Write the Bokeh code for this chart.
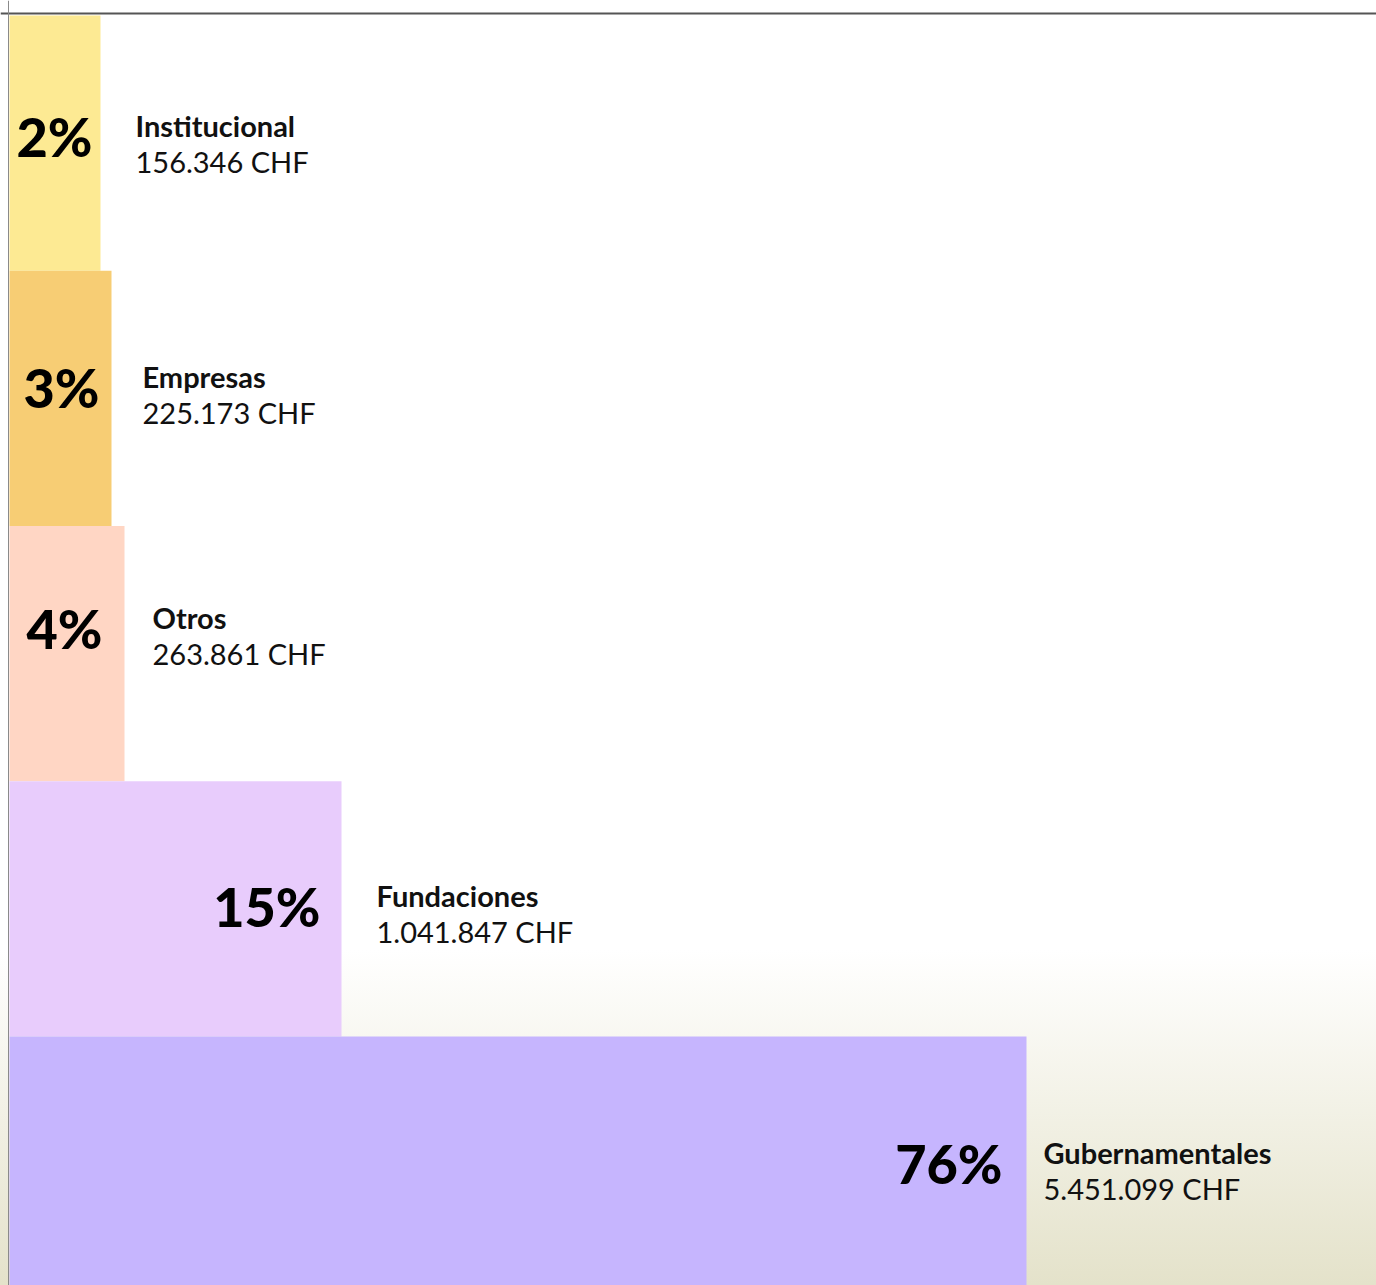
from bokeh.plotting import figure
from bokeh.models import Range1d, Span, ColumnDataSource, GlobalInlineStyleSheet
from bokeh.core.properties import value
from bokeh.embed import file_html
from bokeh.resources import INLINE

# ---- data ----
categories = ["Institucional", "Empresas", "Otros", "Fundaciones", "Gubernamentales"]
amounts = [156346, 225173, 263861, 1041847, 5451099]
amount_labels = ["156.346 CHF", "225.173 CHF", "263.861 CHF", "1.041.847 CHF", "5.451.099 CHF"]
percent_labels = ["2%", "3%", "4%", "15%", "76%"]
bar_extent = [91, 102, 115, 332, 1017]   # displayed bar lengths (px) as drawn in the picture

# ---- styles ----
colors = ["#FDEA93", "#F7CD74", "#FFD6C4", "#E8CCFC", "#C6B5FE"]
label_gap = [35, 31, 28, 35, 17]
pct_pad = [8, 12, 22, 21, 24]
row_dy = [-7, -11, -25, -2, -1]
ROW = 255.25
TOP = 15      # page y of first row
LEFT = 9      # page x of bar start

W, H = 1376, 1285
rows = list(range(len(categories)))

src = ColumnDataSource(dict(
    cat=categories,
    amt=amounts,
    amt_lab=amount_labels,
    pct=percent_labels,
    ext=bar_extent,
    top=[r for r in rows],
    bottom=[r + 1 for r in rows],
    color=colors,
    name_x=[e + g for e, g in zip(bar_extent, label_gap)],
    pct_x=[e - p for e, p in zip(bar_extent, pct_pad)],
    yc=[r + 0.5 + (d - 11) / ROW for r, d in zip(rows, row_dy)],
    yv=[r + 0.5 + (d + 25) / ROW for r, d in zip(rows, row_dy)],
    yp=[r + 0.5 + (d + 0) / ROW for r, d in zip(rows, row_dy)],
))

p = figure(width=W, height=H, output_backend="svg", toolbar_location=None,
           x_range=Range1d(-LEFT, W - LEFT),
           y_range=Range1d((H - TOP) / ROW, -TOP / ROW),
           min_border=0)
p.axis.visible = False
p.grid.visible = False
p.outline_line_color = None
p.background_fill_alpha = 0
p.border_fill_alpha = 0

p.quad(left=0, right="ext", top="top", bottom="bottom", fill_color="color",
       line_color=None, source=src)

p.text(x="pct_x", y="yp", text="pct", source=src, text_font=value("Lato Black, Lato"),
       text_font_style="bold", text_font_size="54px", text_align="right",
       text_baseline="alphabetic", text_color="#000000")
p.text(x="name_x", y="yc", text="cat", source=src, text_font=value("Lato"),
       text_font_style="bold", text_font_size="29px", text_align="left",
       text_baseline="alphabetic", text_color="#111111")
p.text(x="name_x", y="yv", text="amt_lab", source=src, text_font=value("Lato"),
       text_font_size="29px", text_align="left",
       text_baseline="alphabetic", text_color="#111111")

p.add_layout(Span(location=-2 / ROW, dimension="width", line_color="#555555", line_width=2))
p.add_layout(Span(location=-1, dimension="height", line_color="#8a8a8a", line_width=1))

p.stylesheets = [GlobalInlineStyleSheet(css="""
html { background: linear-gradient(180deg, #ffffff 0px, #ffffff 950px, #e4e2ca 1285px) no-repeat; min-height: 100%; }
body { background: transparent; margin: 0 !important; overflow: hidden; }
""")]

open("out.html", "w").write(file_html(p, INLINE))
